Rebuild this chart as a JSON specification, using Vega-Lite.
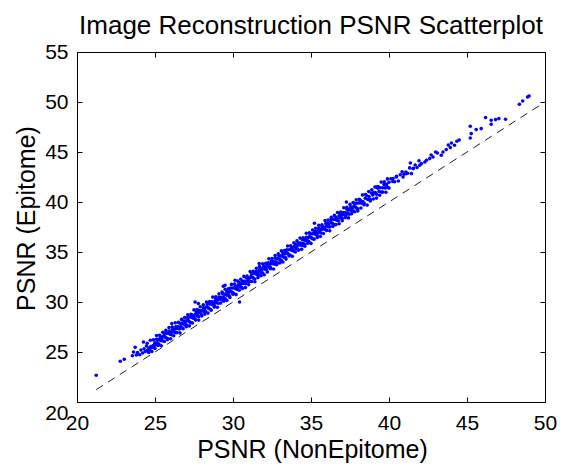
{
  "$schema": "https://vega.github.io/schema/vega-lite/v6.json",
  "width": 468,
  "height": 350,
  "autosize": "none",
  "padding": {"left": 77, "top": 52, "right": 16, "bottom": 64},
  "background": "white",
  "config": {
    "view": {"stroke": null},
    "font": "Liberation Sans",
    "axis": {
      "grid": false, "domainColor": "#000", "tickColor": "#000", "labelColor": "#000", "titleColor": "#000",
      "labelFont": "Liberation Sans", "titleFont": "Liberation Sans", "titleFontWeight": "normal",
      "labelFontSize": 21, "titleFontSize": 25, "tickSize": -5, "labelFlush": false, "labelOverlap": false,
      "domainWidth": 1, "tickWidth": 1
    }
  },
  "title": {"text": "Image Reconstruction PSNR Scatterplot", "fontSize": 26, "fontWeight": "normal", "font": "Liberation Sans", "color": "#000", "anchor": "middle", "baseline": "alphabetic", "offset": -19},
  "datasets": {
    "diag": [{"x": 21.23, "y": 21.23}, {"x": 50, "y": 50}],
    "pts": [
      {"x":21.23,"y":22.67},{"x":22.77,"y":24.08},{"x":23.03,"y":24.27},{"x":23.55,"y":24.62},{"x":23.62,"y":25.0},{"x":23.73,"y":25.48},{"x":23.8,"y":24.7},{"x":23.88,"y":24.95},{"x":24.02,"y":24.72},{"x":24.1,"y":25.2},{"x":24.21,"y":24.9},{"x":24.26,"y":26.0},{"x":24.3,"y":25.32},{"x":24.38,"y":25.05},{"x":24.45,"y":25.6},{"x":24.52,"y":25.18},{"x":24.6,"y":25.4},{"x":24.66,"y":25.22},{"x":24.73,"y":25.55},{"x":24.8,"y":25.44},{"x":24.86,"y":25.62},{"x":24.92,"y":25.5},{"x":24.97,"y":25.78},
      {"x":25.0,"y":25.92},{"x":25.05,"y":25.7},{"x":25.1,"y":26.28},{"x":25.15,"y":25.92},{"x":25.2,"y":26.26},{"x":25.25,"y":25.79},{"x":25.3,"y":26.21},{"x":25.35,"y":26.5},{"x":25.4,"y":26.12},{"x":25.45,"y":26.43},{"x":25.5,"y":26.12},{"x":25.55,"y":26.59},{"x":25.6,"y":26.86},{"x":25.65,"y":26.51},{"x":25.7,"y":26.42},{"x":25.75,"y":26.87},{"x":25.8,"y":26.34},{"x":25.85,"y":26.88},{"x":25.9,"y":27.1},{"x":25.95,"y":26.79},
      {"x":26.0,"y":26.93},{"x":26.05,"y":26.73},{"x":26.08,"y":27.84},{"x":26.1,"y":27.2},{"x":26.15,"y":27.42},{"x":26.2,"y":27.0},{"x":26.25,"y":27.27},{"x":26.3,"y":26.94},{"x":26.35,"y":27.54},{"x":26.4,"y":27.34},{"x":26.45,"y":27.53},{"x":26.5,"y":27.51},{"x":26.55,"y":27.3},{"x":26.6,"y":27.88},{"x":26.65,"y":27.51},{"x":26.7,"y":27.86},{"x":26.75,"y":27.39},{"x":26.8,"y":27.8},{"x":26.85,"y":28.1},{"x":26.9,"y":27.72},{"x":26.95,"y":28.03},
      {"x":27.0,"y":27.72},{"x":27.05,"y":28.19},{"x":27.1,"y":28.46},{"x":27.15,"y":28.11},{"x":27.2,"y":28.02},{"x":27.25,"y":28.47},{"x":27.3,"y":27.94},{"x":27.35,"y":28.48},{"x":27.4,"y":28.7},{"x":27.45,"y":28.38},{"x":27.5,"y":28.53},{"x":27.55,"y":28.33},{"x":27.57,"y":30.0},{"x":27.6,"y":28.79},{"x":27.65,"y":29.02},{"x":27.7,"y":28.6},{"x":27.75,"y":28.86},{"x":27.78,"y":29.84},{"x":27.8,"y":28.54},{"x":27.85,"y":29.14},{"x":27.9,"y":28.93},{"x":27.95,"y":29.13},
      {"x":28.0,"y":28.72},{"x":28.05,"y":29.13},{"x":28.1,"y":29.43},{"x":28.15,"y":29.05},{"x":28.2,"y":29.36},{"x":28.25,"y":29.05},{"x":28.3,"y":29.52},{"x":28.35,"y":29.79},{"x":28.4,"y":29.44},{"x":28.45,"y":29.35},{"x":28.5,"y":29.8},{"x":28.55,"y":29.27},{"x":28.6,"y":29.81},{"x":28.65,"y":30.03},{"x":28.7,"y":29.72},{"x":28.75,"y":29.86},{"x":28.8,"y":29.66},{"x":28.85,"y":30.13},{"x":28.9,"y":30.35},{"x":28.95,"y":29.93},
      {"x":29.0,"y":30.2},{"x":29.05,"y":29.87},{"x":29.1,"y":30.47},{"x":29.15,"y":30.27},{"x":29.2,"y":30.46},{"x":29.25,"y":30.44},{"x":29.3,"y":30.23},{"x":29.35,"y":30.81},{"x":29.38,"y":31.57},{"x":29.4,"y":30.44},{"x":29.45,"y":30.78},{"x":29.49,"y":31.67},{"x":29.5,"y":30.32},{"x":29.55,"y":30.73},{"x":29.6,"y":31.02},{"x":29.65,"y":30.65},{"x":29.7,"y":30.96},{"x":29.75,"y":30.64},{"x":29.8,"y":31.12},{"x":29.85,"y":31.39},{"x":29.9,"y":31.03},{"x":29.95,"y":30.95},
      {"x":30.0,"y":31.4},{"x":30.05,"y":30.86},{"x":30.1,"y":31.41},{"x":30.13,"y":32.17},{"x":30.15,"y":31.63},{"x":30.2,"y":31.31},{"x":30.25,"y":31.46},{"x":30.3,"y":31.26},{"x":30.35,"y":31.72},{"x":30.4,"y":31.95},{"x":30.42,"y":30.0},{"x":30.45,"y":31.53},{"x":30.5,"y":31.79},{"x":30.55,"y":31.47},{"x":30.6,"y":32.07},{"x":30.65,"y":31.86},{"x":30.7,"y":32.06},{"x":30.75,"y":32.04},{"x":30.8,"y":31.82},{"x":30.85,"y":32.41},{"x":30.9,"y":32.04},{"x":30.95,"y":32.38},
      {"x":31.0,"y":32.09},{"x":31.05,"y":32.4},{"x":31.1,"y":32.08},{"x":31.15,"y":32.56},{"x":31.2,"y":32.83},{"x":31.25,"y":32.47},{"x":31.3,"y":32.39},{"x":31.35,"y":32.84},{"x":31.4,"y":32.3},{"x":31.45,"y":32.84},{"x":31.5,"y":33.07},{"x":31.55,"y":32.75},{"x":31.6,"y":32.89},{"x":31.65,"y":32.7},{"x":31.68,"y":33.84},{"x":31.7,"y":33.16},{"x":31.75,"y":33.38},{"x":31.8,"y":32.97},{"x":31.85,"y":33.23},{"x":31.9,"y":32.9},{"x":31.95,"y":33.51},
      {"x":32.0,"y":33.6},{"x":32.05,"y":33.28},{"x":32.1,"y":33.43},{"x":32.15,"y":33.23},{"x":32.2,"y":33.69},{"x":32.25,"y":33.92},{"x":32.3,"y":33.5},{"x":32.35,"y":33.76},{"x":32.4,"y":33.44},{"x":32.45,"y":34.04},{"x":32.5,"y":33.83},{"x":32.55,"y":34.03},{"x":32.6,"y":34.01},{"x":32.65,"y":33.79},{"x":32.7,"y":34.38},{"x":32.75,"y":34.01},{"x":32.8,"y":34.35},{"x":32.85,"y":33.89},{"x":32.9,"y":34.3},{"x":32.95,"y":34.59},
      {"x":33.0,"y":34.28},{"x":33.05,"y":34.62},{"x":33.1,"y":34.15},{"x":33.15,"y":34.57},{"x":33.2,"y":34.86},{"x":33.25,"y":34.48},{"x":33.3,"y":34.8},{"x":33.35,"y":34.48},{"x":33.4,"y":34.95},{"x":33.45,"y":35.22},{"x":33.5,"y":34.87},{"x":33.55,"y":34.78},{"x":33.6,"y":35.23},{"x":33.65,"y":34.7},{"x":33.7,"y":35.24},{"x":33.75,"y":35.46},{"x":33.8,"y":35.15},{"x":33.85,"y":35.29},{"x":33.9,"y":35.09},{"x":33.95,"y":35.56},
      {"x":34.0,"y":35.78},{"x":34.05,"y":35.36},{"x":34.1,"y":35.63},{"x":34.15,"y":35.3},{"x":34.2,"y":35.9},{"x":34.25,"y":35.7},{"x":34.3,"y":35.89},{"x":34.35,"y":35.87},{"x":34.4,"y":35.66},{"x":34.45,"y":36.24},{"x":34.5,"y":35.87},{"x":34.55,"y":36.22},{"x":34.6,"y":35.75},{"x":34.65,"y":36.16},{"x":34.7,"y":36.46},{"x":34.75,"y":36.08},{"x":34.8,"y":36.39},{"x":34.85,"y":36.08},{"x":34.9,"y":36.55},{"x":34.95,"y":36.82},
      {"x":35.0,"y":36.47},{"x":35.05,"y":36.38},{"x":35.1,"y":36.83},{"x":35.15,"y":36.3},{"x":35.2,"y":36.84},{"x":35.22,"y":37.87},{"x":35.25,"y":37.06},{"x":35.3,"y":36.75},{"x":35.35,"y":36.89},{"x":35.4,"y":36.69},{"x":35.45,"y":37.15},{"x":35.5,"y":37.38},{"x":35.55,"y":36.96},{"x":35.6,"y":37.22},{"x":35.65,"y":36.9},{"x":35.7,"y":37.5},{"x":35.75,"y":37.29},{"x":35.8,"y":37.49},{"x":35.85,"y":37.47},{"x":35.9,"y":37.25},{"x":35.95,"y":37.84},
      {"x":36.0,"y":37.6},{"x":36.05,"y":37.89},{"x":36.1,"y":37.52},{"x":36.15,"y":37.83},{"x":36.2,"y":37.51},{"x":36.25,"y":37.99},{"x":36.3,"y":38.26},{"x":36.35,"y":37.9},{"x":36.4,"y":37.82},{"x":36.45,"y":38.27},{"x":36.5,"y":37.73},{"x":36.55,"y":38.28},{"x":36.6,"y":38.5},{"x":36.65,"y":38.18},{"x":36.7,"y":38.33},{"x":36.75,"y":38.13},{"x":36.8,"y":38.59},{"x":36.85,"y":38.82},{"x":36.9,"y":38.4},{"x":36.95,"y":38.66},
      {"x":37.0,"y":38.34},{"x":37.05,"y":38.94},{"x":37.1,"y":38.73},{"x":37.15,"y":38.93},{"x":37.2,"y":38.91},{"x":37.25,"y":38.69},{"x":37.27,"y":40.0},{"x":37.3,"y":39.28},{"x":37.35,"y":38.91},{"x":37.4,"y":39.25},{"x":37.45,"y":38.78},{"x":37.5,"y":39.2},{"x":37.55,"y":39.49},{"x":37.6,"y":39.11},{"x":37.65,"y":39.43},{"x":37.7,"y":39.11},{"x":37.75,"y":39.58},{"x":37.8,"y":39.86},{"x":37.85,"y":39.5},{"x":37.9,"y":39.41},{"x":37.95,"y":39.87},
      {"x":38.0,"y":39.33},{"x":38.08,"y":39.91},{"x":38.16,"y":40.16},{"x":38.24,"y":39.88},{"x":38.32,"y":40.05},{"x":38.4,"y":39.89},{"x":38.48,"y":40.38},{"x":38.56,"y":40.64},{"x":38.64,"y":40.25},{"x":38.72,"y":40.55},{"x":38.8,"y":40.25},{"x":38.88,"y":40.89},{"x":38.96,"y":40.71},{"x":39.04,"y":40.94},{"x":39.12,"y":40.95},{"x":39.19,"y":41.5},{"x":39.2,"y":40.77},{"x":39.28,"y":41.38},{"x":39.36,"y":41.05},{"x":39.44,"y":41.42},{"x":39.52,"y":40.99},{"x":39.6,"y":41.43},{"x":39.68,"y":41.76},{"x":39.76,"y":41.41},{"x":39.84,"y":41.76},{"x":39.92,"y":41.48},
      {"x":40.0,"y":41.98},{"x":40.12,"y":42.33},{"x":40.24,"y":42.05},{"x":40.26,"y":42.34},{"x":40.36,"y":42.03},{"x":40.47,"y":42.5},{"x":40.48,"y":42.56},{"x":40.6,"y":42.1},{"x":40.72,"y":42.72},{"x":40.84,"y":43.02},{"x":40.9,"y":42.5},{"x":40.96,"y":42.77},{"x":41.08,"y":42.99},{"x":41.11,"y":42.84},{"x":41.2,"y":42.87},{"x":41.32,"y":43.41},{"x":41.37,"y":43.9},{"x":41.44,"y":42.84},{"x":41.54,"y":43.34},{"x":41.56,"y":43.36},{"x":41.68,"y":43.7},{"x":41.8,"y":43.45},{"x":41.92,"y":44.13},{"x":41.97,"y":43.67},
      {"x":42.08,"y":43.84},{"x":42.3,"y":44.0},{"x":42.4,"y":44.17},{"x":42.61,"y":44.34},{"x":42.7,"y":44.7},{"x":42.82,"y":44.5},{"x":42.99,"y":45.0},{"x":43.1,"y":44.9},{"x":43.35,"y":44.67},{"x":43.46,"y":45.0},{"x":43.67,"y":45.24},{"x":43.8,"y":45.7},{"x":43.93,"y":45.44},{"x":44.0,"y":45.9},{"x":44.2,"y":45.67},{"x":44.35,"y":46.07},{"x":44.5,"y":46.2},
      {"x":45.21,"y":46.4},{"x":45.27,"y":46.84},{"x":45.21,"y":47.57},{"x":45.59,"y":47.24},{"x":45.91,"y":47.34},{"x":46.19,"y":48.44},{"x":46.55,"y":47.77},{"x":46.55,"y":48.17},{"x":46.83,"y":48.24},{"x":47.04,"y":48.34},{"x":47.47,"y":48.27},{"x":48.36,"y":49.77},{"x":48.57,"y":50.1},{"x":48.88,"y":50.5},{"x":48.98,"y":50.6},
      {"x":24.5,"y":25.88},{"x":24.6,"y":24.96},{"x":24.7,"y":26.17},{"x":24.8,"y":25.05},{"x":24.9,"y":26.21},{"x":25.0,"y":25.35},{"x":25.1,"y":26.65},{"x":25.2,"y":25.66},{"x":25.3,"y":26.68},{"x":25.4,"y":25.63},{"x":25.5,"y":26.98},{"x":25.6,"y":26.05},{"x":25.7,"y":27.16},{"x":25.8,"y":26.24},{"x":25.9,"y":27.44},
      {"x":26.0,"y":26.33},{"x":26.1,"y":27.49},{"x":26.2,"y":26.62},{"x":26.3,"y":27.93},{"x":26.4,"y":26.94},{"x":26.5,"y":27.96},{"x":26.6,"y":26.91},{"x":26.7,"y":28.26},{"x":26.8,"y":27.33},{"x":26.9,"y":28.44},
      {"x":27.0,"y":27.52},{"x":27.1,"y":28.72},{"x":27.2,"y":27.61},{"x":27.3,"y":28.76},{"x":27.4,"y":27.9},{"x":27.5,"y":29.21},{"x":27.6,"y":28.21},{"x":27.7,"y":29.24},{"x":27.8,"y":28.19},{"x":27.9,"y":29.53},
      {"x":28.0,"y":28.61},{"x":28.1,"y":29.72},{"x":28.2,"y":28.79},{"x":28.3,"y":30.0},{"x":28.4,"y":28.89},{"x":28.5,"y":30.04},{"x":28.6,"y":29.18},{"x":28.7,"y":30.49},{"x":28.8,"y":29.49},{"x":28.9,"y":30.52},
      {"x":29.0,"y":29.47},{"x":29.1,"y":30.81},{"x":29.2,"y":29.89},{"x":29.3,"y":30.99},{"x":29.4,"y":30.07},{"x":29.5,"y":31.28},{"x":29.6,"y":30.16},{"x":29.7,"y":31.32},{"x":29.8,"y":30.46},{"x":29.9,"y":31.76},
      {"x":30.0,"y":30.77},{"x":30.1,"y":31.8},{"x":30.2,"y":30.74},{"x":30.3,"y":32.09},{"x":30.4,"y":31.17},{"x":30.5,"y":32.27},{"x":30.6,"y":31.35},{"x":30.7,"y":32.56},{"x":30.8,"y":31.44},{"x":30.9,"y":32.6},
      {"x":31.0,"y":31.74},{"x":31.1,"y":33.04},{"x":31.2,"y":32.05},{"x":31.3,"y":33.07},{"x":31.4,"y":32.02},{"x":31.5,"y":33.37},{"x":31.6,"y":32.44},{"x":31.7,"y":33.55},{"x":31.8,"y":32.63},{"x":31.9,"y":33.83},
      {"x":32.0,"y":32.72},{"x":32.1,"y":33.88},{"x":32.2,"y":33.01},{"x":32.3,"y":34.32},{"x":32.4,"y":33.33},{"x":32.5,"y":34.35},{"x":32.6,"y":33.3},{"x":32.7,"y":34.65},{"x":32.8,"y":33.72},{"x":32.9,"y":34.83},
      {"x":33.0,"y":33.91},{"x":33.1,"y":35.11},{"x":33.2,"y":34.0},{"x":33.3,"y":35.15},{"x":33.4,"y":34.29},{"x":33.5,"y":35.6},{"x":33.6,"y":34.6},{"x":33.7,"y":35.63},{"x":33.8,"y":34.58},{"x":33.9,"y":35.92},
      {"x":34.0,"y":35.0},{"x":34.1,"y":36.11},{"x":34.2,"y":35.18},{"x":34.3,"y":36.39},{"x":34.4,"y":35.28},{"x":34.5,"y":36.43},{"x":34.6,"y":35.57},{"x":34.7,"y":36.88},{"x":34.8,"y":35.88},{"x":34.9,"y":36.91},
      {"x":35.0,"y":35.86},{"x":35.1,"y":37.2},{"x":35.2,"y":36.28},{"x":35.3,"y":37.38},{"x":35.4,"y":36.46},{"x":35.5,"y":37.67},{"x":35.6,"y":36.55},{"x":35.7,"y":37.71},{"x":35.8,"y":36.85},{"x":35.9,"y":38.15},
      {"x":36.0,"y":37.16},{"x":36.1,"y":38.19},{"x":36.2,"y":37.13},{"x":36.3,"y":38.48},{"x":36.4,"y":37.56},{"x":36.5,"y":38.66},{"x":36.6,"y":37.74},{"x":36.7,"y":38.95},{"x":36.8,"y":37.83},{"x":36.9,"y":38.99},
      {"x":37.0,"y":38.13},{"x":37.1,"y":39.43},{"x":37.2,"y":38.44},{"x":37.3,"y":39.46},{"x":37.4,"y":38.41},{"x":37.5,"y":39.76},{"x":37.6,"y":38.83},{"x":37.7,"y":39.94},{"x":37.8,"y":39.02},{"x":37.9,"y":40.22},
      {"x":38.0,"y":39.11},{"x":38.1,"y":40.27},{"x":38.2,"y":39.4},{"x":38.3,"y":40.71},{"x":38.4,"y":39.72},{"x":38.5,"y":40.74},{"x":38.6,"y":39.69},{"x":38.7,"y":41.04},{"x":38.8,"y":40.11},{"x":38.9,"y":41.22},
      {"x":39.0,"y":40.3},{"x":39.1,"y":41.5},{"x":39.2,"y":40.39},{"x":39.3,"y":41.54},{"x":39.4,"y":40.68},{"x":39.5,"y":41.99},{"x":39.6,"y":40.99},{"x":39.7,"y":42.02},{"x":39.8,"y":40.97},{"x":39.9,"y":42.31},{"x":40.0,"y":41.39}
    ]
  },
  "layer": [
    {
      "data": {"name": "pts"},
      "mark": {"type": "circle", "size": 13, "color": "#0000ff", "opacity": 1},
      "encoding": {
        "x": {"field": "x", "type": "quantitative", "scale": {"domain": [20, 50], "nice": false, "zero": false},
          "axis": {"orient": "bottom", "values": [20, 25, 30, 35, 40, 45, 50], "labelPadding": 15, "title": "PSNR (NonEpitome)", "titleX": 235, "titleY": 55, "titleBaseline": "alphabetic", "titleAlign": "center"}},
        "y": {"field": "y", "type": "quantitative", "scale": {"domain": [20, 55], "nice": false, "zero": false},
          "axis": {"orient": "left", "values": [20, 25, 30, 35, 40, 45, 50, 55], "labelPadding": 14,
            "labelBaseline": {"condition": {"test": "datum.value === 20", "value": "top"}, "value": "middle"},
            "title": "PSNR (Epitome)", "titleX": -43, "titleY": 166, "titleAngle": 270, "titleBaseline": "alphabetic", "titleAlign": "center"}}
      }
    },
    {
      "data": {"name": "diag"},
      "mark": {"type": "line", "color": "#222222", "strokeWidth": 1, "strokeDash": [8, 6]},
      "encoding": {
        "x": {"field": "x", "type": "quantitative", "axis": {"orient": "top", "values": [20, 25, 30, 35, 40, 45, 50], "labels": false, "title": null}},
        "y": {"field": "y", "type": "quantitative", "axis": {"orient": "right", "values": [20, 25, 30, 35, 40, 45, 50, 55], "labels": false, "title": null}}
      }
    }
  ],
  "resolve": {"axis": {"x": "independent", "y": "independent"}}
}
